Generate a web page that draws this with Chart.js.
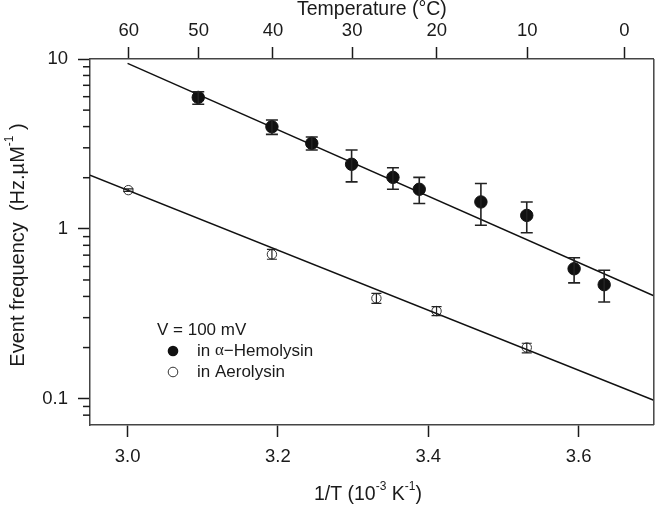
<!DOCTYPE html>
<html>
<head>
<meta charset="utf-8">
<script src="https://cdn.jsdelivr.net/npm/chart.js@4.4.1/dist/chart.umd.min.js"></script>
<style>
html,body{margin:0;padding:0;background:#fff;}
#wrap{width:661px;height:506px;}
</style>
</head>
<body>
<div id="wrap"><canvas id="c" width="661" height="506"></canvas></div>
<script>
// ---- data ----
const hemoX  = [3.094, 3.192, 3.245, 3.298, 3.353, 3.388, 3.470, 3.531, 3.594, 3.634];
const hemoY  = [5.94, 3.99, 3.19, 2.40, 2.01, 1.71, 1.44, 1.20, 0.582, 0.469];
const hemoLo = [5.41, 3.60, 2.91, 1.89, 1.71, 1.41, 1.05, 0.948, 0.481, 0.371];
const hemoHi = [6.42, 4.37, 3.47, 2.91, 2.29, 2.01, 1.85, 1.44, 0.676, 0.570];

const aeroX  = [3.001, 3.192, 3.331, 3.411, 3.531];
const aeroY  = [1.69, 0.708, 0.390, 0.328, 0.200];
const aeroLo = [1.66, 0.662, 0.364, 0.308, 0.186];
const aeroHi = [1.72, 0.758, 0.417, 0.348, 0.212];

const hemoFitX = [3.000, 3.700];
const hemoFitY = [9.43, 0.404];
const aeroFitX = [2.950, 3.700];
const aeroFitY = [2.07, 0.098];

// ---- axes ----
const xTickVals = [3.0, 3.2, 3.4, 3.6];
const tempTicksC = [60, 50, 40, 30, 20, 10, 0];
const yMajor = [0.1, 1, 10];
const yMinor = [0.08, 0.09, 0.2, 0.3, 0.4, 0.5, 0.6, 0.7, 0.8, 0.9, 2, 3, 4, 5, 6, 7, 8, 9];
const xRange = [2.95, 3.70];
const yRange = [0.07, 10];

const FONT = "'Liberation Sans', Arial, Helvetica, sans-serif";
const AXIS_COLOR = '#444';
const TICK_COLOR = '#1a1a1a';
const TEXT_COLOR = '#1a1a1a';
const TICK_FONT = 18.5;
const TITLE_FONT = 19.5;

function pts(xs, ys){ return xs.map((x,i)=>({x:x, y:ys[i]})); }

function drawRich(ctx, parts, size, cx, cy){
  const supSize = Math.round(size*0.62);
  let w = 0;
  parts.forEach(p=>{
    ctx.font = (p.sup ? supSize : size) + 'px ' + (p.serif ? "'Liberation Serif', serif" : FONT);
    p.w = ctx.measureText(p.t).width; w += p.w;
  });
  let x = cx - w/2;
  parts.forEach(p=>{
    ctx.font = (p.sup ? supSize : size) + 'px ' + (p.serif ? "'Liberation Serif', serif" : FONT);
    ctx.fillText(p.t, x, p.sup ? cy - size*0.42 : cy);
    x += p.w;
  });
}
function drawRichLeft(ctx, parts, size, lx, cy){
  let x = lx;
  parts.forEach(p=>{
    ctx.font = size + 'px ' + (p.serif ? "'Liberation Serif', serif" : FONT);
    ctx.fillText(p.t, x, cy);
    x += ctx.measureText(p.t).width;
  });
}

const errorBars = {
  id: 'errorBars',
  afterDatasetsDraw(chart){
    const ctx = chart.ctx, xs = chart.scales.x, ys = chart.scales.y;
    ctx.save();
    ctx.strokeStyle = '#222';
    ctx.lineWidth = 1.6;
    const draw = (X, LO, HI, cap) => {
      X.forEach((xv,i)=>{
        const px = xs.getPixelForValue(xv);
        const p1 = ys.getPixelForValue(LO[i]);
        const p2 = ys.getPixelForValue(HI[i]);
        ctx.beginPath();
        ctx.moveTo(px, p1); ctx.lineTo(px, p2);
        ctx.moveTo(px-cap, p1); ctx.lineTo(px+cap, p1);
        ctx.moveTo(px-cap, p2); ctx.lineTo(px+cap, p2);
        ctx.stroke();
      });
    };
    draw(hemoX, hemoLo, hemoHi, 6);
    ctx.lineWidth = 1.2;
    draw(aeroX, aeroLo, aeroHi, 5);
    ctx.restore();
  }
};

const decor = {
  id: 'decor',
  afterDraw(chart){
    const ctx = chart.ctx, a = chart.chartArea, ys = chart.scales.y;
    ctx.save();
    ctx.strokeStyle = AXIS_COLOR; ctx.lineWidth = 1.5;
    ctx.beginPath(); ctx.moveTo(a.right, a.top); ctx.lineTo(a.right, a.bottom); ctx.stroke();
    ctx.strokeStyle = TICK_COLOR; ctx.lineWidth = 1.5;
    yMinor.forEach(v=>{
      const p = ys.getPixelForValue(v);
      ctx.beginPath(); ctx.moveTo(a.left-7, p); ctx.lineTo(a.left, p); ctx.stroke();
    });
    ctx.fillStyle = TEXT_COLOR;
    ctx.textBaseline = 'middle';
    ctx.textAlign = 'left';
    drawRich(ctx, [{t:'Temperature (°C)'}], TITLE_FONT, (a.left+a.right)/2, 10);
    drawRich(ctx, [{t:'1/T (10'},{t:'-3',sup:true},{t:' K'},{t:'-1',sup:true},{t:')'}], TITLE_FONT, (a.left+a.right)/2 - 4, 495);
    ctx.save();
    ctx.translate(18, (a.top+a.bottom)/2 + 3);
    ctx.rotate(-Math.PI/2);
    drawRich(ctx, [{t:'Event frequency  (Hz.µM'},{t:'-1',sup:true},{t:' )'}], 20, 0, 0);
    ctx.restore();
    // legend
    ctx.font = '17px ' + FONT;
    ctx.fillText('V = 100 mV', 157, 330);
    ctx.fillStyle = '#111';
    ctx.beginPath(); ctx.arc(173, 351, 5.3, 0, Math.PI*2); ctx.fill();
    ctx.strokeStyle = '#333'; ctx.lineWidth = 1;
    ctx.beginPath(); ctx.arc(173, 372, 4.8, 0, Math.PI*2); ctx.stroke();
    ctx.fillStyle = TEXT_COLOR;
    drawRichLeft(ctx, [{t:'in '},{t:'α',serif:true},{t:'−Hemolysin'}], 17, 197, 351);
    drawRichLeft(ctx, [{t:'in Aerolysin'}], 17, 197, 372);
    ctx.restore();
  }
};

function zeroPad(s){ s.paddingLeft = 0; s.paddingRight = 0; s.paddingTop = 0; s.paddingBottom = 0; }

new Chart(document.getElementById('c'), {
  type: 'scatter',
  data: {
    datasets: [
      { type:'line', data: pts(hemoFitX, hemoFitY), borderColor:'#111', borderWidth:1.5, pointRadius:0, fill:false, xAxisID:'x', yAxisID:'y' },
      { type:'line', data: pts(aeroFitX, aeroFitY), borderColor:'#111', borderWidth:1.5, pointRadius:0, fill:false, xAxisID:'x', yAxisID:'y' },
      { data: pts(hemoX, hemoY), pointRadius:6.2, pointBackgroundColor:'#111', pointBorderColor:'#111', pointBorderWidth:1, xAxisID:'x', yAxisID:'y' },
      { data: pts(aeroX, aeroY), pointRadius:4.7, pointBackgroundColor:'rgba(0,0,0,0)', pointBorderColor:'#333', pointBorderWidth:1, xAxisID:'x', yAxisID:'y' }
    ]
  },
  options: {
    responsive:false,
    devicePixelRatio:1,
    animation:false,
    layout:{ padding:{ left:0, right:1, top:0, bottom:0 } },
    plugins:{ legend:{display:false}, tooltip:{enabled:false} },
    scales:{
      x:{
        type:'linear', position:'bottom', min:xRange[0], max:xRange[1],
        afterBuildTicks: s => { s.ticks = xTickVals.map(v=>({value:v})); },
        afterFit: s => { s.height = 81; zeroPad(s); },
        ticks:{ callback: v => Number(v).toFixed(1), font:{family:FONT, size:TICK_FONT}, color:TEXT_COLOR, padding:9, maxRotation:0, autoSkip:false },
        grid:{ drawOnChartArea:false, drawTicks:true, tickLength:12, tickWidth:1.5, tickColor:TICK_COLOR },
        border:{ display:true, color:AXIS_COLOR, width:1.5 }
      },
      xTop:{
        type:'linear', position:'top', min:xRange[0], max:xRange[1],
        afterBuildTicks: s => { s.ticks = tempTicksC.map(t=>({value:1000/(t+273.15)})); },
        afterFit: s => { s.height = 59; zeroPad(s); },
        ticks:{ callback: v => String(Math.round(1000/v - 273.15)), font:{family:FONT, size:TICK_FONT}, color:TEXT_COLOR, padding:5, maxRotation:0, autoSkip:false },
        grid:{ drawOnChartArea:false, drawTicks:true, tickLength:12, tickWidth:1.5, tickColor:TICK_COLOR },
        border:{ display:true, color:AXIS_COLOR, width:1.5 }
      },
      y:{
        type:'logarithmic', position:'left', min:yRange[0], max:yRange[1],
        afterBuildTicks: s => { s.ticks = yMajor.map(v=>({value:v})); },
        afterFit: s => { s.width = 90; zeroPad(s); },
        ticks:{ callback: v => String(v), font:{family:FONT, size:TICK_FONT}, color:TEXT_COLOR, padding:10, autoSkip:false },
        grid:{ drawOnChartArea:false, drawTicks:true, tickLength:12, tickWidth:1.5, tickColor:TICK_COLOR },
        border:{ display:true, color:AXIS_COLOR, width:1.5 }
      }
    }
  },
  plugins:[errorBars, decor]
});
</script>
</body>
</html>
